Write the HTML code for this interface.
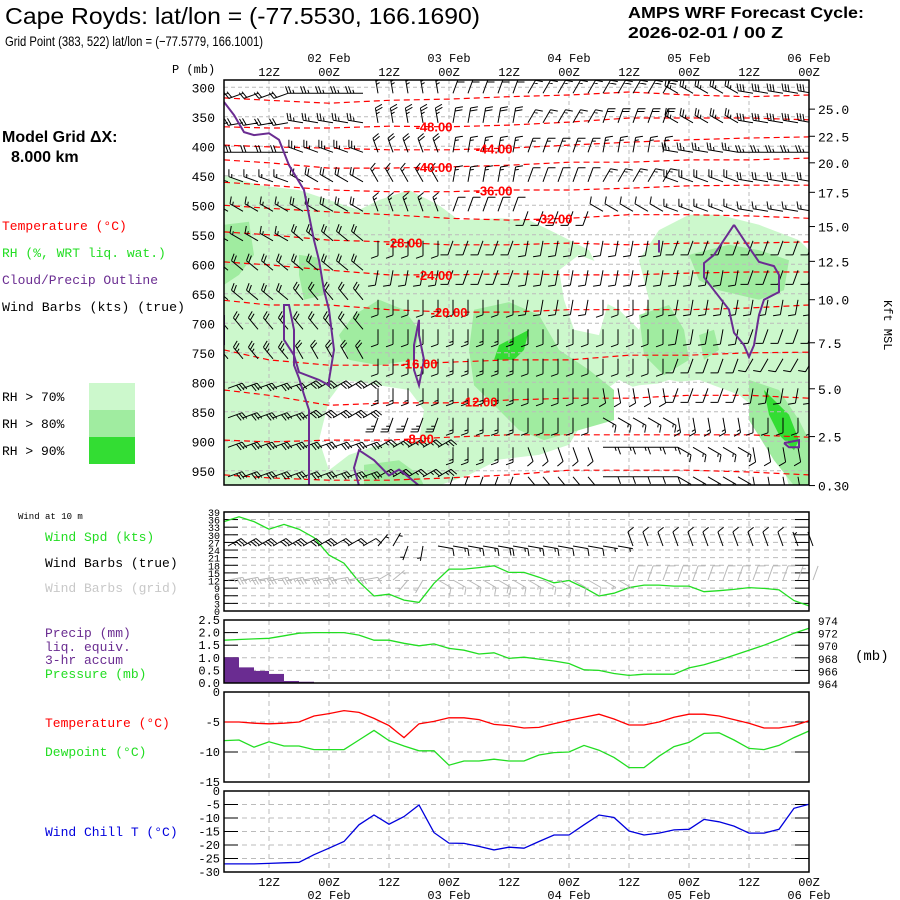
<!DOCTYPE html>
<html><head><meta charset="utf-8"><style>
html,body{margin:0;padding:0;background:#fff;}
svg{display:block;font-family:"Liberation Mono","DejaVu Sans Mono",monospace;}
.t{font-family:"Liberation Sans",sans-serif;}
</style></head><body>
<svg id="c" width="900" height="900" viewBox="0 0 900 900" xmlns="http://www.w3.org/2000/svg">
<g id="static">
<text class="t" x="5" y="24" font-size="23" textLength="475" lengthAdjust="spacingAndGlyphs">Cape Royds:  lat/lon = (-77.5530, 166.1690)</text>
<text class="t" x="5" y="46" font-size="14" textLength="258" lengthAdjust="spacingAndGlyphs">Grid Point (383, 522) lat/lon = (−77.5779, 166.1001)</text>
<text class="t" x="628" y="18" font-size="16" font-weight="bold" textLength="236" lengthAdjust="spacingAndGlyphs">AMPS WRF Forecast Cycle:</text>
<text class="t" x="628" y="38" font-size="16" font-weight="bold" textLength="155" lengthAdjust="spacingAndGlyphs">2026-02-01 / 00  Z</text>
<text x="172" y="73" font-size="12">P (mb)</text>
<text class="t" x="2" y="142" font-size="16" font-weight="bold">Model Grid ΔX:</text>
<text class="t" x="11" y="162" font-size="16" font-weight="bold">8.000 km</text>
<text x="2" y="230" font-size="13" fill="#ff0000">Temperature (°C)</text>
<text x="2" y="257" font-size="13" fill="#22dd22">RH (%, WRT liq. wat.)</text>
<text x="2" y="284" font-size="13" fill="#6a2c91">Cloud/Precip Outline</text>
<text x="2" y="311" font-size="13" fill="#000" textLength="183" lengthAdjust="spacingAndGlyphs">Wind Barbs (kts) (true)</text>
<rect x="89" y="383" width="46" height="27" fill="#ccf8cc"/>
<rect x="89" y="410" width="46" height="27" fill="#a0eca0"/>
<rect x="89" y="437" width="46" height="27" fill="#33dd33"/>
<text x="2" y="401" font-size="13">RH &gt; 70%</text>
<text x="2" y="428" font-size="13">RH &gt; 80%</text>
<text x="2" y="455" font-size="13">RH &gt; 90%</text>
<text x="884" y="300" font-size="12" transform="rotate(90 884 300)">Kft MSL</text>
<text x="18" y="519" font-size="9">Wind at 10 m</text>
<text x="45" y="541" font-size="13" fill="#22dd22">Wind Spd (kts)</text>
<text x="45" y="567" font-size="13">Wind Barbs (true)</text>
<text x="45" y="592" font-size="13" fill="#c8c8c8">Wind Barbs (grid)</text>
<text x="45" y="637" font-size="13" fill="#6a2c91">Precip (mm)</text>
<text x="45" y="651" font-size="13" fill="#6a2c91">liq. equiv.</text>
<text x="45" y="664" font-size="13" fill="#6a2c91">3-hr accum</text>
<text x="45" y="678" font-size="13" fill="#22dd22">Pressure (mb)</text>
<text x="855" y="660" font-size="14">(mb)</text>
<text x="45" y="727" font-size="13" fill="#ff0000">Temperature (°C)</text>
<text x="45" y="756" font-size="13" fill="#22dd22">Dewpoint (°C)</text>
<text x="45" y="836" font-size="13" fill="#0000dd">Wind Chill T (°C)</text>
</g>
<g id="plots"></g>
</svg>
<script>
// ---------- data ----------
const hours=[3,6,9,12,15,18,21,24,27,30,33,36,39,42,45,48,51,54,57,60,63,66,69,72,75,78,81,84,87,90,93,96,99,102,105,108,111,114,117,120];
const tempSfc=[-5.0,-5.0,-5.2,-5.3,-5.2,-5.0,-4.0,-3.6,-3.1,-3.4,-4.4,-5.6,-7.6,-5.3,-4.9,-4.3,-4.3,-4.6,-5.4,-5.6,-6.0,-5.9,-5.3,-4.7,-4.2,-3.7,-4.5,-5.5,-5.5,-5.0,-4.2,-3.7,-3.7,-4.0,-4.6,-5.2,-6.0,-6.0,-5.6,-4.8];
const dewSfc=[-8.1,-8.0,-9.2,-8.3,-9.0,-9.0,-9.6,-9.6,-9.6,-8.0,-6.4,-8.1,-9.0,-9.8,-9.8,-12.2,-11.5,-11.5,-11.2,-11.5,-11.5,-10.5,-10.1,-10.0,-8.9,-9.7,-10.9,-12.6,-12.6,-10.7,-9.1,-8.4,-6.9,-6.8,-8.0,-9.4,-9.6,-8.9,-7.6,-6.5];
const windChill=[-27.0,-27.0,-27.0,-26.8,-26.6,-26.4,-23.6,-21.2,-18.7,-12.5,-8.9,-12.3,-9.5,-5.2,-15.4,-19.3,-19.4,-20.5,-21.8,-20.8,-21.2,-18.7,-16.3,-16.3,-12.5,-8.9,-9.8,-14.8,-16.3,-15.6,-14.4,-14.2,-10.5,-11.4,-13.0,-15.6,-15.6,-14.2,-6.4,-4.9];
const windSpd=[35.2,37.1,35.2,32.2,34.1,32.2,28.9,22.0,18.8,11.5,5.9,6.6,4.3,3.4,10.9,16.5,16.5,17.1,17.8,15.2,15.2,13.3,11.1,12.0,9.2,5.9,7.0,9.2,10.2,10.2,9.8,9.8,7.6,8.0,8.5,9.2,8.9,8.3,4.1,2.0];
const windDir=[60,60,60,60,60,60,60,60,60,60,40,30,200,190,100,100,100,100,100,100,100,100,100,100,100,100,100,340,340,340,340,340,340,340,340,340,340,340,340,340];
const gridDir=[80,80,80,80,80,80,80,80,80,80,60,50,220,210,120,120,120,120,120,120,120,120,120,120,120,120,120,20,20,20,20,20,20,20,20,20,20,20,20,20];
const pressure=[970.8,970.9,971.0,971.1,971.5,971.9,972.0,972.0,972.0,971.6,970.8,970.8,970.3,969.9,970.2,969.5,969.2,968.6,968.8,967.9,968.1,967.8,967.5,967.1,966.1,966.0,965.5,965.2,965.4,965.4,965.4,966.4,966.9,967.6,968.4,969.2,970.0,970.9,971.9,972.7];
const precip=[1.02,0.62,0.48,0.36,0.08,0.05,0,0,0,0,0,0,0,0,0,0,0,0,0,0,0,0,0,0,0,0,0,0,0,0,0,0,0,0,0,0,0,0,0,0];
// upper air
const levels=[300,350,400,450,500,550,600,650,700,750,800,850,900,950];
const dirBlocks=[
[250,270,350,20,30,30,300,280],[260,280,350,10,30,20,300,280],[270,290,340,10,20,10,280,270],[290,300,330,10,20,30,290,280],
[300,300,340,20,200,300,290,280],[300,310,180,200,190,190,200,200],[310,310,190,200,190,190,190,200],[310,320,180,180,190,180,190,190],
[320,320,180,180,180,180,190,200],[320,330,180,180,180,180,200,210],[70,60,180,180,180,170,200,190],[70,60,200,180,180,120,170,180],
[70,70,60,180,160,90,120,170],[70,70,60,200,140,90,120,170]];
const spdBlocks=[
[20,25,25,20,15,20,25,30],[20,25,25,20,15,20,25,30],[20,25,20,15,15,15,25,25],[15,20,15,15,10,15,20,20],
[15,20,15,10,10,10,15,15],[15,20,10,10,10,10,10,10],[20,20,10,10,10,10,10,10],[20,20,10,10,10,10,10,10],
[20,20,10,15,10,10,10,10],[25,20,10,15,10,10,10,10],[30,30,15,15,10,10,10,10],[30,30,25,15,10,15,15,10],
[30,30,25,15,10,15,15,10],[30,30,25,15,10,10,15,10]];
const isoHours=[3,12,24,36,48,60,72,84,96,108,120];
const isoValues=[-52,-48,-44,-40,-36,-32,-28,-24,-20,-16,-12,-8,-4];
const isoP=[
[318,322,327,322,320,316,313,308,313,316,313],[367,369,369,366,367,364,359,352,352,352,355],[398,401,403,406,406,403,398,393,389,386,384],
[423,428,437,437,435,432,427,427,423,423,420],[461,466,474,477,477,474,474,471,467,466,466],[500,505,511,516,522,525,522,516,516,518,522],
[545,550,559,562,567,567,564,567,564,564,562],[596,601,610,618,618,616,618,618,615,613,613],[661,669,669,677,681,681,677,677,677,674,669],
[745,762,771,771,766,762,762,754,754,750,749],[813,822,839,835,835,830,827,827,822,822,827],[898,901,898,898,893,889,889,889,889,889,893],
[957,962,966,966,962,957,949,949,949,952,957]];
const isoLabelVals=[-48,-44,-40,-36,-32,-28,-24,-20,-16,-12,-8];
const isoLabelHours=[45,57,45,57,69,39,45,48,42,54,42];
const rhLight=[[[3,449],[10,466],[18,474],[24,491],[30,508],[34,491],[40,474],[46,500],[50,525],[58,522],[64,525],[70,550],[76,576],[78,610],[78,660],[82,677],[86,711],[88,660],[86,593],[90,542],[96,516],[102,516],[110,533],[118,559],[120,576],[120,975],[116,975],[112,864],[106,821],[98,805],[92,796],[86,813],[82,796],[78,821],[75,864],[72,906],[66,923],[58,931],[52,957],[46,975],[3,975]]];
const rhHoles=[
[[24,830],[27,796],[34,805],[40,813],[43,847],[42,898],[34,906],[28,923],[24,949],[22,898]],
[[70,610],[74,584],[79,601],[80,660],[78,720],[73,711],[71,660]],
[[78,821],[86,805],[98,796],[106,821],[108,864],[102,898],[98,931],[94,975],[74,975],[70,949],[74,881]]];
const rhMed=[
[[3,533],[8,528],[9,584],[6,618],[3,635]],
[[18,584],[22,589],[23,652],[19,660],[18,618]],
[[29,686],[34,660],[39,677],[42,711],[41,762],[34,771],[28,762],[26,720]],
[[53,677],[60,664],[66,686],[70,745],[76,779],[81,813],[81,864],[74,881],[67,898],[62,881],[58,847],[53,805],[52,745]],
[[86,686],[92,669],[95,711],[96,762],[91,788],[87,754]],
[[96,584],[104,567],[110,576],[116,593],[115,644],[110,660],[102,644],[98,627]],
[[98,720],[101,711],[102,745],[99,762]],
[[108,796],[114,813],[118,864],[120,898],[120,975],[117,975],[113,932],[108,864]],
[[31,940],[38,932],[42,957],[43,975],[31,975]]];
const rhDark=[
[[58,737],[64,711],[63,745],[61,762],[57,762]],
[[111,813],[113,830],[116,855],[118,898],[117,915],[114,889],[112,855]]];
const cloudLines=[
[[3,325],[5,347],[7,376],[9,381],[12,378],[14,389],[16,432],[19,474],[20,517],[21,559],[22,593],[23,644],[24,677],[25,745],[24,796],[24,805],[22,796],[18,783],[17,754],[15,728],[15,669],[16,669],[17,711],[17,771],[18,793],[19,821],[20,847],[20,965],[20,975]],
[[3,686],[3,737]],
[[42,694],[42,720],[43,762],[42,805],[41,779],[41,737],[42,694]],
[[30,975],[29,945],[30,915],[33,932],[36,958],[38,948],[40,961],[42,975]],
[[105,533],[107,559],[110,596],[113,603],[114,618],[114,647],[111,660],[110,686],[109,737],[108,757],[107,737],[105,716],[104,677],[101,644],[99,622],[99,598],[101,584],[105,533]],
[[90,559],[90,580],[90,572]],
[[115,903],[118,898],[118,910],[116,910],[115,903]]];
const kftLabels=["25.0","22.5","20.0","17.5","15.0","12.5","10.0","7.5","5.0","2.5","0.30"];
const kftP=[337,383,428,478,536,595,660,733,811,892,975];
const timeTicks=[12,24,36,48,60,72,84,96,108,120];
const timeLabels=["12Z","00Z","12Z","00Z","12Z","00Z","12Z","00Z","12Z","00Z"];
const dateLabels=["02 Feb","03 Feb","04 Feb","05 Feb","06 Feb"];
const dateHours=[24,48,72,96,120];
const wsTicks=[0,3,6,9,12,15,18,21,24,27,30,33,36,39];
const prTicks=[0,0.5,1,1.5,2,2.5];
const pmTicks=[964,966,968,970,972,974];
const tTicks=[0,-5,-10,-15];
const wcTicks=[0,-5,-10,-15,-20,-25,-30];

// ---------- helpers ----------
const NS="http://www.w3.org/2000/svg";
const root=document.getElementById('plots');
function mk(tag,attrs,parent){const e=document.createElementNS(NS,tag);for(const k in attrs)e.setAttribute(k,attrs[k]);(parent||root).appendChild(e);return e;}
const X0=224,X1=809;
const xH=h=>X0+(h-3)*5;
const yP=p=>87.3+(p-300)/50*29.5;
const yWS=v=>611-v*2.54;
const yPR=v=>683-v*25.2;
const yPM=v=>683-(v-964)*6.3;
const yT=v=>692-v*6;
const yWC=v=>791-v*2.7;
function barbPath(x,y,dir,spd,L){
  const r=dir*Math.PI/180,dx=Math.sin(r),dy=-Math.cos(r);
  const ex=x+dx*L,ey=y+dy*L;let d=`M${x.toFixed(1)} ${y.toFixed(1)}L${ex.toFixed(1)} ${ey.toFixed(1)}`;
  const px=-dy,py=dx;let s=Math.round(spd/5)*5,pos=0;
  while(s>=10){const bx=ex-dx*pos,by=ey-dy*pos;d+=`M${bx.toFixed(1)} ${by.toFixed(1)}l${(px*7+dx*2.5).toFixed(1)} ${(py*7+dy*2.5).toFixed(1)}`;s-=10;pos+=3;}
  if(s>=5){if(pos===0)pos=3;const bx=ex-dx*pos,by=ey-dy*pos;d+=`M${bx.toFixed(1)} ${by.toFixed(1)}l${(px*3.5+dx*1.2).toFixed(1)} ${(py*3.5+dy*1.2).toFixed(1)}`;}
  return d;
}
const ptsStr=(arr)=>arr.map(q=>xH(q[0]).toFixed(1)+','+yP(q[1]).toFixed(1)).join(' ');

// ---------- main panel ----------
const defs=mk('defs',{});
const cp=mk('clipPath',{id:'mainclip'},defs);mk('rect',{x:X0,y:80,width:X1-X0,height:405},cp);
const main=mk('g',{'clip-path':'url(#mainclip)'});


rhLight.forEach(p=>{const e=mk('polygon',{points:ptsStr(p),fill:'#ccf8cc'},main);

});
rhHoles.forEach(p=>{const e=mk('polygon',{points:ptsStr(p),fill:'#fff'},main);

});
rhMed.forEach(p=>{const e=mk('polygon',{points:ptsStr(p),fill:'#a0eca0'},main);

});
rhDark.forEach(p=>{const e=mk('polygon',{points:ptsStr(p),fill:'#33dd33'},main);

});
levels.forEach(p=>{mk('line',{x1:X0,x2:X1,y1:yP(p),y2:yP(p),stroke:'#bbb','stroke-dasharray':'4,3','stroke-width':1},main);});
timeTicks.forEach(h=>{mk('line',{x1:xH(h),x2:xH(h),y1:80,y2:485,stroke:'#bbb','stroke-dasharray':'4,3'},main);});
isoP.forEach((row,i)=>{const d=row.map((p,j)=>(j?'L':'M')+xH(isoHours[j]).toFixed(1)+' '+yP(p).toFixed(1)).join('');
const e=mk('path',{d:d,fill:'none',stroke:'#ff0000','stroke-width':1.2,'stroke-dasharray':'6,4'},main);

});
let bd='';
levels.forEach((p,i)=>{hours.forEach((h,j)=>{const b=Math.min(7,Math.floor(j/5));bd+=barbPath(xH(h)+4,yP(p)+6,dirBlocks[i][b],spdBlocks[i][b],15);});});
const bp=mk('path',{d:bd,fill:'none',stroke:'#000','stroke-width':1},main);


cloudLines.forEach(l=>{const e=mk('polyline',{points:ptsStr(l),fill:'none',stroke:'#6a2c91','stroke-width':2},main);

});
isoLabelVals.forEach((v,i)=>{const row=isoP[isoValues.indexOf(v)];
let k=0;while(k<isoHours.length-2&&isoHours[k+1]<isoLabelHours[i])k++;
const f=(isoLabelHours[i]-isoHours[k])/(isoHours[k+1]-isoHours[k]);const p=row[k]+(row[k+1]-row[k])*f;
const e=mk('text',{x:xH(isoLabelHours[i]),y:yP(p)+5,'font-size':13,'font-weight':'bold',fill:'#ff0000','text-anchor':'middle','font-family':'Liberation Sans, sans-serif'},main);e.textContent=v.toFixed(2);

});
mk('rect',{x:X0,y:80,width:X1-X0,height:405,fill:'none',stroke:'#000','stroke-width':1.5});
levels.forEach(p=>{const e=mk('text',{x:215,y:yP(p)+5,'font-size':13,'text-anchor':'end'});e.textContent=p;

});
kftLabels.forEach((s,i)=>{const y=yP(kftP[i]);mk('line',{x1:X1,x2:X1+6,y1:y,y2:y,stroke:'#000'});const e=mk('text',{x:818,y:y+5,'font-size':13});e.textContent=s;

});
timeTicks.forEach((h,i)=>{const e=mk('text',{x:xH(h),y:76,'font-size':12,'text-anchor':'middle'});e.textContent=timeLabels[i];


const e2=mk('text',{x:xH(h),y:886,'font-size':12,'text-anchor':'middle'});e2.textContent=timeLabels[i];

});
dateHours.forEach((h,i)=>{const e=mk('text',{x:xH(h),y:62,'font-size':12,'text-anchor':'middle'});e.textContent=dateLabels[i];


const e2=mk('text',{x:xH(h),y:899,'font-size':12,'text-anchor':'middle'});e2.textContent=dateLabels[i];

});

// ---------- lower panels ----------
function panel(name,y0,y1,ticks,yf,labs){
  const g=mk('g',{});
  
  
  ticks.forEach(t=>{const y=yf(t);if(y>y0+1&&y<y1-1)mk('line',{x1:X0,x2:X1,y1:y,y2:y,stroke:'#bbb','stroke-dasharray':'5,4'},g);
    mk('line',{x1:X1-14,x2:X1,y1:y,y2:y,stroke:'#000'},g);mk('line',{x1:X0,x2:X0+14,y1:y,y2:y,stroke:'#000'},g);});
  timeTicks.forEach(h=>{if(h<120)mk('line',{x1:xH(h),x2:xH(h),y1:y0,y2:y1,stroke:'#bbb','stroke-dasharray':'5,4'},g);});
  if(labs)ticks.forEach((t,i)=>{const e=mk('text',{x:220,y:yf(t)+4,'font-size':labs.size,'text-anchor':'end'},g);e.textContent=labs.f(t);
    
    });
  return g;
}
const gW=panel('wind-panel',512,611,wsTicks,yWS,{size:10,f:t=>String(t)});
const gP=panel('precip-pressure-panel',620,683,prTicks,yPR,{size:12,f:t=>t.toFixed(1)});
pmTicks.forEach(t=>{const e=mk('text',{x:818,y:yPM(t)+5,'font-size':11});e.textContent=t;

});
const gT=panel('temperature-panel',692,782,tTicks,yT,{size:12,f:t=>String(t)});
const gC=panel('wind-chill-panel',791,872,wcTicks,yWC,{size:12,f:t=>String(t)});
hours.forEach((h,i)=>{if(precip[i]>0){const e=mk('rect',{x:xH(h),y:yPR(precip[i]),width:15,height:683-yPR(precip[i]),fill:'#6a2c91'},gP);

}});
function line(arr,yf,col,name,g){const e=mk('polyline',{points:arr.map((v,i)=>xH(hours[i]).toFixed(1)+','+yf(v).toFixed(1)).join(' '),fill:'none',stroke:col,'stroke-width':1.3},g);

}
line(pressure,yPM,'#22dd22','pressure-line',gP);
line(windSpd,yWS,'#22dd22','wind-speed-line',gW);
line(tempSfc,yT,'#ff0000','temperature-line',gT);
line(dewSfc,yT,'#22dd22','dewpoint-line',gT);
line(windChill,yWC,'#0000dd','wind-chill-line',gC);
let gd='',td='';
hours.forEach((h,i)=>{td+=barbPath(xH(h)+4,546,windDir[i],windSpd[i],15);gd+=barbPath(xH(h)+4,580,gridDir[i],windSpd[i],15);});
const gb=mk('path',{d:gd,fill:'none',stroke:'#b8b8b8'},gW);


const tb=mk('path',{d:td,fill:'none',stroke:'#000'},gW);


[[512,611],[620,683],[692,782],[791,872]].forEach(r=>mk('rect',{x:X0,y:r[0],width:X1-X0,height:r[1]-r[0],fill:'none',stroke:'#000','stroke-width':1.5}));
</script>
</body></html>
